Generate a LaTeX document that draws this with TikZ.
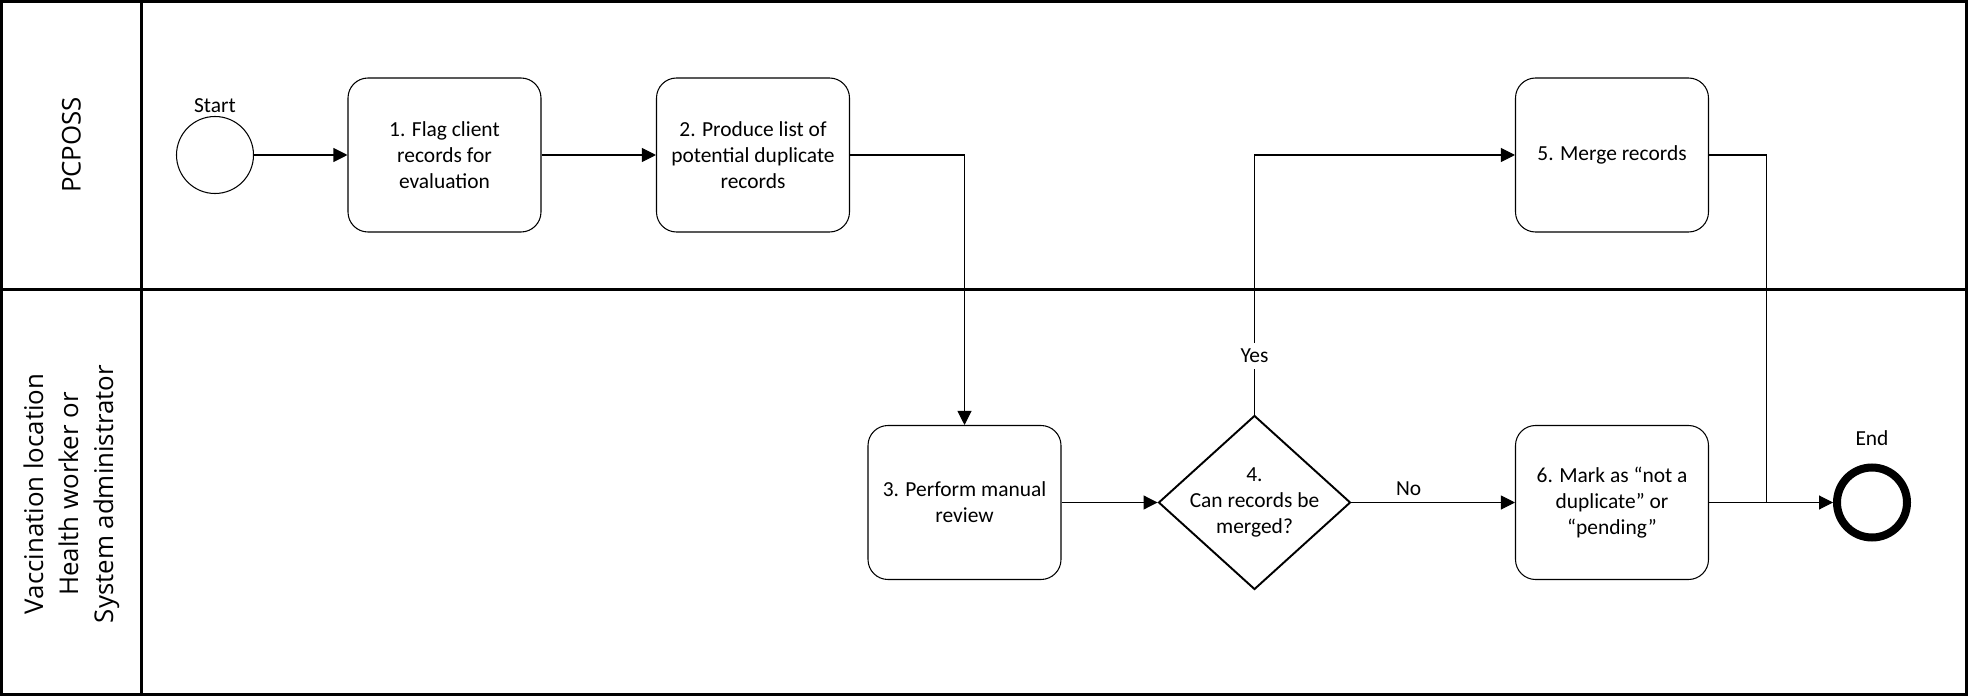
\documentclass[tikz,border=0pt]{standalone}
\usepackage{fontspec}
\setmainfont{Carlito}
\newfontfamily\lanefont{Open Sans}
\usepackage{tikz}
\usetikzlibrary{arrows.meta}
\usetikzlibrary{shapes.geometric}

\tikzset{
	every node/.style={font=\fontsize{12.2}{14.8}\selectfont},
	lane/.style={line width=0.06cm},
	lanetitle/.style={rotate=90, align=center, font=\lanefont\fontsize{14.7}{19.9}\selectfont},
	task/.style={draw, line width=0.6pt, rounded corners=0.4cm, align=center,
		minimum width=3.86cm, minimum height=3.08cm},
	gate/.style={draw, diamond, line width=1.1pt, inner sep=0pt,
		minimum width=3.84cm, minimum height=3.48cm},
	startevent/.style={draw, circle, line width=0.6pt, minimum size=1.54cm, inner sep=0pt},
	endevent/.style={draw, circle, line width=0.16cm, minimum size=1.40cm, inner sep=0pt},
	flow/.style={line width=0.6pt, -{Triangle[length=0.28cm,width=0.28cm]}},
	seqline/.style={line width=0.6pt},
}

\begin{document}
\begin{tikzpicture}
	\useasboundingbox (0,0) rectangle (39.36,-13.92);
	
	% LANES: header column on the left, one lane per role
	\draw[lane] (0.03,-0.03) rectangle (39.33,-5.80);
	\draw[lane] (0.03,-5.80) rectangle (39.33,-13.89);
	\draw[lane] (2.82,-0.03) -- (2.82,-13.89);
	
	\node[lanetitle] (L1) at (1.43,-2.90) {PCPOSS};
	\node[lanetitle] (L2) at (1.43,-9.88) {Vaccination location\\Health worker or\\System administrator};
	
	%%%%%%%%%%%%%%%%%%%%%%%%%%%%%%%%%%%%%%%%%%%%%%%%%%%%%%%%%%%%%%
	% Events and tasks, placed by their centres (cm)
	\node[startevent, label={[label distance=-0.06cm]above:Start}] (S) at (4.30,-3.10) {};
	\node[task] (T1) at (8.89,-3.10) {1. Flag client\\records for\\evaluation};
	\node[task] (T2) at (15.06,-3.10) {2. Produce list of\\potential duplicate\\records};
	\node[task] (T5) at (32.24,-3.10) {5. Merge records};
	
	\node[task] (T3) at (19.29,-10.05) {3. Perform manual\\review};
	% NOTE: text goes in as a centre label, else the diamond grows round it
	\node[gate, label={[align=center]center:4.\\Can records be\\merged?}] (D4) at (25.09,-10.05) {};
	\node[task] (T6) at (32.24,-10.05) {6. Mark as “not a\\duplicate” or\\“pending”};
	\node[endevent, label={[label distance=0.23cm]above:End}] (E) at (37.44,-10.05) {};
	
	% flows out of 5 and 6 meet here
	\coordinate (J) at (35.33,-10.05);
	
	%%%%%%%%%%%%%%%%%%%%%%%%%%%%%%%%%%%%%%%%%%%%%%%%%%%%%%%%%%%%%%
	% Sequence flows
	\draw[flow] (S) -- (T1);
	\draw[flow] (T1) -- (T2);
	\draw[flow] (T2.east) -| (T3.north);
	\draw[flow] (T3) -- (D4);
	\draw[flow] (D4.north) |- node[pos=0.113, fill=white] {Yes} (T5.west);
	\draw[flow] (D4) -- node[pos=0.35, above] {No} (T6);
	\draw[seqline] (T5.east) -| (J);
	\draw[flow] (T6) -- (E);
\end{tikzpicture}
\end{document}
